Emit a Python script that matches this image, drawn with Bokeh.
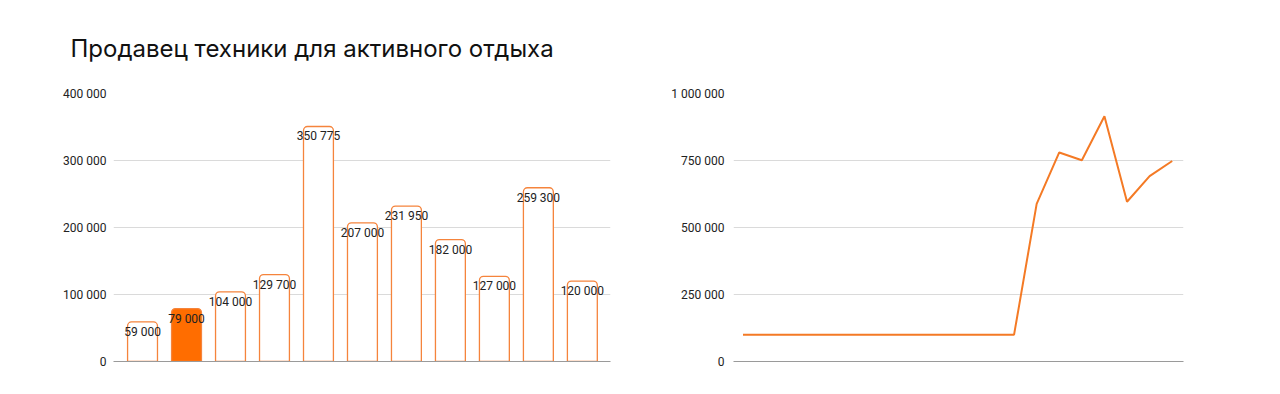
from bokeh.plotting import figure
from bokeh.layouts import row
from bokeh.models import ColumnDataSource, FixedTicker, Range1d
from bokeh.core.properties import value
from bokeh.embed import file_html
from bokeh.resources import INLINE

title_text = "Продавец техники для активного отдыха"

bar_values = [59000, 79000, 104000, 129700, 350775, 207000, 231950, 182000, 127000, 259300, 120000]
bar_highlight = [False, True, False, False, False, False, False, False, False, False, False]
bar_ticks = [0, 100000, 200000, 300000, 400000]
bar_tick_labels = ["0", "100 000", "200 000", "300 000", "400 000"]

line_values = [100000] * 13 + [588000, 780000, 751000, 915000, 596000, 692000, 748000]
line_ticks = [0, 250000, 500000, 750000, 1000000]
line_tick_labels = ["0", "250 000", "500 000", "750 000", "1 000 000"]

ORANGE = "#FF6D00"
BORDER = "#F5843C"
LINE = "#F47A25"
GRID = "#DADADA"
BASE = "#9A9A9A"
TICK_FONT = "Roboto"


def style(p, ticks, labels):
    p.xaxis.ticker = FixedTicker(ticks=[])
    p.xaxis.major_tick_line_color = None
    p.xaxis.minor_tick_line_color = None
    p.xaxis.axis_line_color = BASE
    p.xaxis.axis_line_width = 1.2
    p.xgrid.grid_line_color = None
    p.yaxis.ticker = FixedTicker(ticks=ticks)
    p.yaxis.major_label_overrides = {t: l for t, l in zip(ticks, labels)}
    p.yaxis.axis_line_color = None
    p.yaxis.major_tick_line_color = None
    p.yaxis.minor_tick_line_color = None
    p.yaxis.major_label_text_font = TICK_FONT
    p.yaxis.major_label_text_font_size = "12px"
    p.yaxis.major_label_text_color = "#222222"
    p.yaxis.major_label_standoff = 1
    p.ygrid.grid_line_color = GRID
    p.ygrid.grid_line_width = 1
    p.outline_line_color = None
    p.background_fill_color = "white"
    p.border_fill_color = "white"


# ---------- bar chart ----------
xs = list(range(len(bar_values)))
src = ColumnDataSource(dict(
    x=xs,
    top=bar_values,
    fill=[ORANGE if h else "white" for h in bar_highlight],
    label=[f"{v:,}".replace(",", " ") for v in bar_values],
))

p1 = figure(width=640, height=390, output_backend="svg", toolbar_location=None,
            x_range=Range1d(-0.66, 10.64), y_range=Range1d(0, 400000),
            min_border_left=113, min_border_right=30, min_border_top=93, min_border_bottom=29)
p1.title.text = title_text
p1.title.text_font = "Inter"
p1.title.text_font_size = "24px"
p1.title.text_font_style = "normal"
p1.title.text_color = "#111111"
p1.title.align = "left"
p1.title.offset = -43
p1.title.standoff = 61
style(p1, bar_ticks, bar_tick_labels)

p1.vbar(x="x", top="top", bottom=0, width=0.68, source=src,
        fill_color="fill", line_color=BORDER, line_width=1.3,
        border_radius=(4, 4, 0, 0))
p1.text(x="x", y="top", text="label", source=src, y_offset=10,
        text_align="center", text_baseline="middle",
        text_font=value(TICK_FONT), text_font_size="12px", text_color="#222222")

# ---------- line chart ----------
lx = list(range(len(line_values)))
p2 = figure(width=632, height=390, output_backend="svg", toolbar_location=None,
            x_range=Range1d(-0.42, len(line_values) - 1 + 0.5), y_range=Range1d(0, 1000000),
            min_border_left=93, min_border_right=89, min_border_top=84, min_border_bottom=29)
style(p2, line_ticks, line_tick_labels)
p2.yaxis.major_label_standoff = 3
p2.line(lx, line_values, line_color=LINE, line_width=2)

layout = row(p1, p2)
open("out.html", "w").write(file_html(layout, INLINE))
